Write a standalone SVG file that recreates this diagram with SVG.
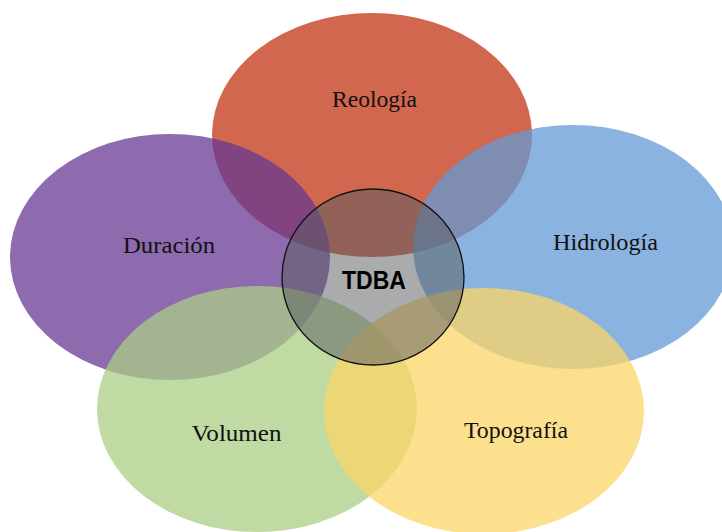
<svg xmlns="http://www.w3.org/2000/svg" width="722" height="532" viewBox="0 0 722 532">
<style>
.petal{fill-opacity:0.75;stroke:none}
.lbl{font-family:"Liberation Serif","DejaVu Serif",serif;font-size:23px;fill:#111;text-anchor:middle}
.core{fill:#5a5d62;fill-opacity:0.52;stroke:#111;stroke-width:1.3}
.corelbl{font-family:"Liberation Sans","Arial",sans-serif;font-weight:bold;font-size:26px;fill:#000;text-anchor:middle}
</style>
<rect x="0" y="0" width="722" height="532" fill="#ffffff"/>
<g id="reologia">
<ellipse class="petal" cx="372" cy="135" rx="160" ry="122" fill="#c03413"/>
<text class="lbl" x="374.5" y="107" textLength="85" lengthAdjust="spacingAndGlyphs">Reología</text>
</g>
<g id="hidrologia">
<ellipse class="petal" cx="573" cy="247" rx="160" ry="122" fill="#649ad6"/>
<text class="lbl" x="605.5" y="250" textLength="105" lengthAdjust="spacingAndGlyphs">Hidrología</text>
</g>
<g id="duracion">
<ellipse class="petal" cx="170" cy="257" rx="160" ry="123" fill="#683893"/>
<text class="lbl" x="169" y="253" textLength="92" lengthAdjust="spacingAndGlyphs">Duración</text>
</g>
<g id="volumen">
<ellipse class="petal" cx="257" cy="409" rx="160" ry="123" fill="#abce86"/>
<text class="lbl" x="236.5" y="441" textLength="90" lengthAdjust="spacingAndGlyphs">Volumen</text>
</g>
<g id="topografia">
<ellipse class="petal" cx="484" cy="411" rx="160" ry="123" fill="#fbd668"/>
<text class="lbl" x="516" y="438" textLength="104" lengthAdjust="spacingAndGlyphs">Topografía</text>
</g>
<g id="tdba">
<ellipse class="core" cx="373" cy="277" rx="91" ry="88"/>
<text class="corelbl" x="374" y="289" textLength="64" lengthAdjust="spacingAndGlyphs">TDBA</text>
</g>
<g id="connectors"></g>
</svg>
